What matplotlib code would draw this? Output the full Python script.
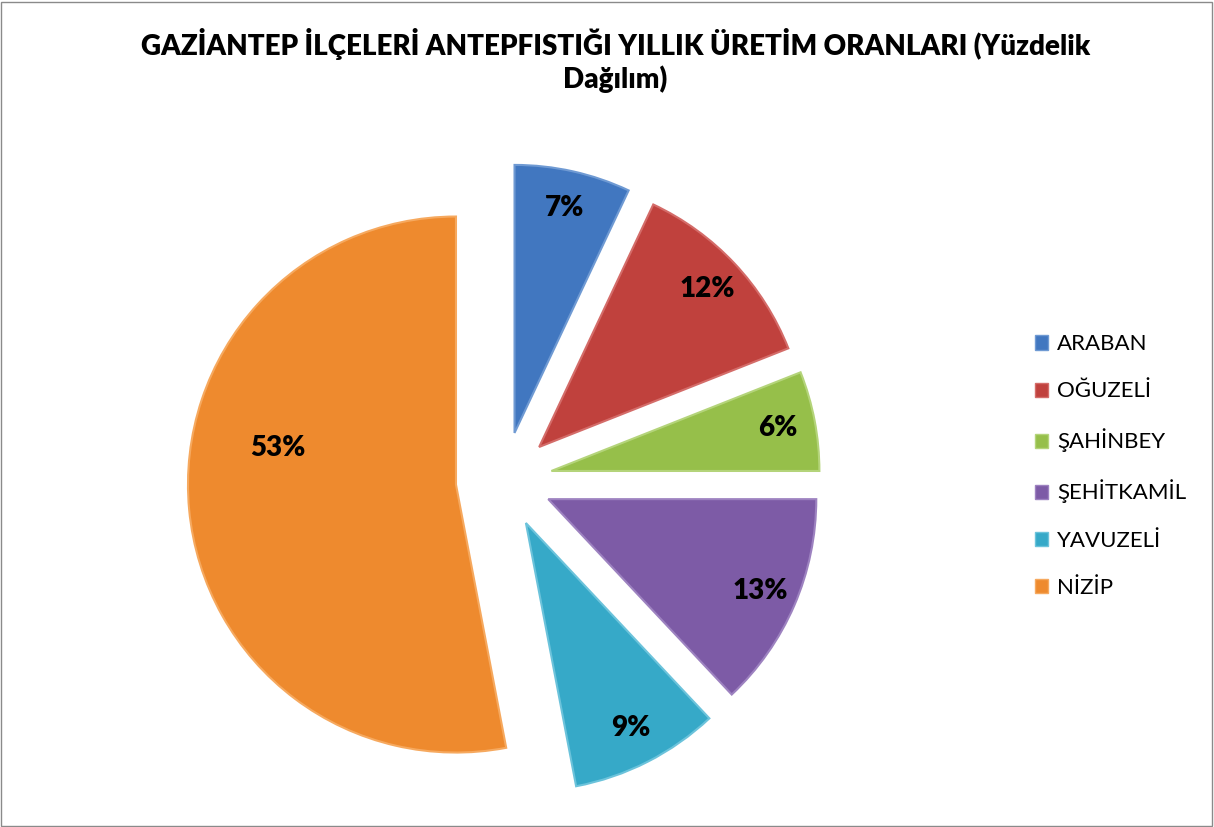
import numpy as np
import matplotlib
matplotlib.use('Agg')
import matplotlib.pyplot as plt
from matplotlib.patches import Patch, Rectangle

plt.rcParams['font.family'] = ['Lato', 'DejaVu Sans']

districts = ['ARABAN', 'OĞUZELİ', 'ŞAHİNBEY', 'ŞEHİTKAMİL', 'YAVUZELİ', 'NİZİP']
shares = [7, 12, 6, 13, 9, 53]
colors = ['#4177c0', '#c0413d', '#96bf4a', '#7d5ba6', '#36a9c8', '#ee8a2e']
edges = ['#6f9ad3', '#d46c69', '#b4d47a', '#9d82c0', '#6cc3db', '#f6a95f']

W, H = 1214, 827
fig = plt.figure(figsize=(W / 100, H / 100), dpi=100)
fig.patch.set_facecolor('white')

# pie axes over the whole figure, scaled so radius 1 = ~268 px
cx, cy, rpx = 504, 347, 268
ax = fig.add_axes([0, 0, 1, 1])

wedges, texts, autotexts = ax.pie(
    shares, colors=colors, startangle=90, counterclock=False,
    explode=[0.18] * len(shares), radius=1.0, center=(0, 0),
    autopct='%1.0f%%', pctdistance=0.86,
    wedgeprops=dict(linewidth=1.5),
    textprops=dict(fontsize=20, fontweight='heavy', color='black'),
    frame=False)
ax.set_xlim(-cx / rpx, (W - cx) / rpx)
ax.set_ylim(-cy / rpx, (H - cy) / rpx)
ax.set_aspect('auto')
ax.axis('off')

for w, e in zip(wedges, edges):
    w.set_edgecolor(e)

# largest slice label sits further in, like Excel's best fit
big = int(np.argmax(shares))
w = wedges[big]
ang = np.deg2rad((w.theta1 + w.theta2) / 2 - 17)
x0, y0 = w.center
autotexts[big].set_position((x0 + 0.68 * np.cos(ang), y0 + 0.68 * np.sin(ang)))

fig.text(0.507, 1 - 28 / H, 'GAZİANTEP İLÇELERİ ANTEPFISTIĞI YILLIK ÜRETİM ORANLARI (Yüzdelik\nDağılım)',
         ha='center', va='top', fontsize=20, fontweight='heavy', linespacing=1.25)

handles = [Patch(facecolor=c, edgecolor=e) for c, e in zip(colors, edges)]
fig.legend(handles, districts, loc='center left', bbox_to_anchor=(1015 / W, 1 - 466 / H),
           frameon=False, fontsize=16, handlelength=0.6, handleheight=0.6,
           handletextpad=0.4, labelspacing=1.22)

fig.patches.append(Rectangle((0.001, 0.001), 0.997, 0.997, transform=fig.transFigure,
                             fill=False, edgecolor='#8a8a8a', linewidth=1))

fig.savefig('out.png', dpi=100)
